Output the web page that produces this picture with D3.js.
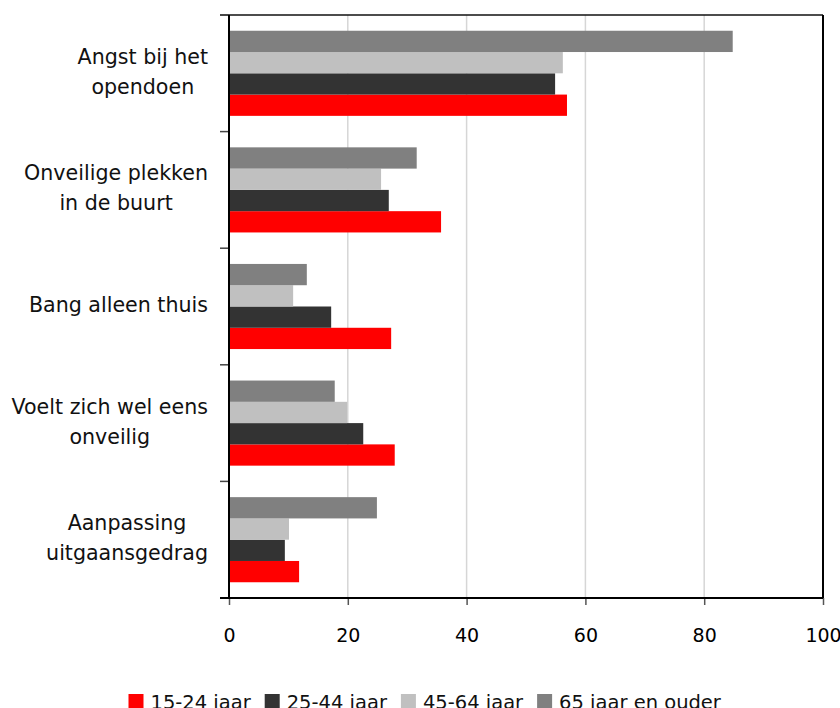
<!DOCTYPE html>
<html>
<head>
<meta charset="utf-8">
<script src="https://cdn.jsdelivr.net/npm/d3@7"></script>
<style>
  body { margin: 0; background: #fff; }
  svg { display: block; }
</style>
</head>
<body>
<div id="chart"></div>
<script>
// categories, top to bottom (label lines)
var categories = ["Angst bij het opendoen", "Onveilige plekken in de buurt", "Bang alleen thuis", "Voelt zich wel eens onveilig", "Aanpassing uitgaansgedrag"];
var categoryLines = [["Angst bij het", "opendoen"], ["Onveilige plekken", "in de buurt"], ["Bang alleen thuis"], ["Voelt zich wel eens", "onveilig"], ["Aanpassing", "uitgaansgedrag"]];
var seriesNames = ["15-24 jaar", "25-44 jaar", "45-64 jaar", "65 jaar en ouder"];
var seriesColors = ["#ff0000", "#333333", "#c0c0c0", "#808080"];
// values per series, same order as categories
var v15_24 = [56.9, 35.7, 27.3, 27.9, 11.8];
var v25_44 = [54.9, 26.9, 17.2, 22.6, 9.4];
var v45_64 = [56.2, 25.6, 10.8, 19.9, 10.1];
var v65plus = [84.8, 31.6, 13.1, 17.8, 24.9];
var xTicks = [0, 20, 40, 60, 80, 100];

var seriesValues = [v15_24, v25_44, v45_64, v65plus];
var svgW = 840, svgH = 708;
var plotL = 229, plotR = 823, plotT = 15, plotB = 598;
var labelFont = "DejaVu Sans";

var svg = d3.select("#chart").append("svg").attr("width", svgW).attr("height", svgH);

var xScale = d3.scaleLinear().domain([0, 100]).range([plotL, plotR]);
var yScale = d3.scaleBand().domain(categories).range([plotT, plotB]).padding(0);
// bars are drawn with 65+ on top, 15-24 at the bottom of each group
var inner = d3.scaleBand().domain([3, 2, 1, 0]).range([0, yScale.bandwidth()]).paddingInner(0).paddingOuter(0.74);

// gridlines
svg.append("g").selectAll("line").data(xTicks.filter(function(t){ return t > 0 && t < 100; }))
  .enter().append("line")
  .attr("x1", function(d){ return xScale(d); }).attr("x2", function(d){ return xScale(d); })
  .attr("y1", plotT).attr("y2", plotB)
  .attr("stroke", "#d6d6d6").attr("stroke-width", 1.5);

// bars
var rows = [];
categories.forEach(function(c, ci){
  seriesValues.forEach(function(vals, si){
    rows.push({cat: c, s: si, v: vals[ci]});
  });
});
svg.append("g").selectAll("rect").data(rows).enter().append("rect")
  .attr("x", xScale(0))
  .attr("y", function(d){ return yScale(d.cat) + inner(d.s); })
  .attr("width", function(d){ return xScale(d.v) - xScale(0); })
  .attr("height", inner.bandwidth())
  .attr("fill", function(d){ return seriesColors[d.s]; });

// frame top + right
svg.append("line").attr("x1", 220).attr("x2", plotR).attr("y1", plotT).attr("y2", plotT)
  .attr("stroke", "#111").attr("stroke-width", 1.5);
svg.append("line").attr("x1", plotR).attr("x2", plotR).attr("y1", plotT).attr("y2", plotB)
  .attr("stroke", "#000").attr("stroke-width", 2);

// y axis ticks at band boundaries
var bounds = categories.map(function(c){ return yScale(c); }).concat([plotB]);
svg.append("g").selectAll("line").data(bounds).enter().append("line")
  .attr("x1", 220).attr("x2", plotL).attr("y1", function(d){ return d; }).attr("y2", function(d){ return d; })
  .attr("stroke", "#444").attr("stroke-width", 1.5);

// x axis
var xAxis = d3.axisBottom(xScale).tickValues(xTicks).tickSize(7).tickFormat(d3.format("d"));
var gx = svg.append("g").attr("transform", "translate(0," + plotB + ")").call(xAxis);
gx.select(".domain").remove();
gx.selectAll(".tick line").attr("stroke", "#555").attr("stroke-width", 1.5);
gx.selectAll(".tick text").attr("y", 43.7).attr("dy", 0)
  .style("font-family", labelFont).style("font-size", "19px").attr("fill", "#000");

// axis lines
svg.append("line").attr("x1", 220).attr("x2", plotR).attr("y1", plotB).attr("y2", plotB)
  .attr("stroke", "#000").attr("stroke-width", 2);
svg.append("line").attr("x1", plotL).attr("x2", plotL).attr("y1", plotT).attr("y2", plotB)
  .attr("stroke", "#000").attr("stroke-width", 2);

// category labels: lines centred on each other, block right aligned
var labelRight = 208;
categories.forEach(function(c, ci){
  var lines = categoryLines[ci];
  var g = svg.append("g");
  var texts = g.selectAll("text").data(lines).enter().append("text")
    .style("font-family", labelFont).style("font-size", "20.6px").attr("fill", "#111")
    .text(function(d){ return d; });
  var maxW = 0;
  texts.each(function(){ maxW = Math.max(maxW, this.getComputedTextLength()); });
  var cy = yScale(c) + yScale.bandwidth() / 2;
  texts.attr("text-anchor", "middle").attr("x", labelRight - maxW / 2)
    .attr("y", function(d, i){ return cy + 5.5 + (i - (lines.length - 1) / 2) * 30; });
});

// legend
var lx = 128.5;
seriesNames.forEach(function(name, si){
  svg.append("rect").attr("x", lx).attr("y", 694).attr("width", 15).attr("height", 15).attr("fill", seriesColors[si]);
  var t = svg.append("text").attr("x", lx + 22).attr("y", 708.5)
    .style("font-family", labelFont).style("font-size", "19.5px").attr("fill", "#111").text(name);
  lx = lx + 22 + t.node().getComputedTextLength() + 14;
});
</script>
</body>
</html>
